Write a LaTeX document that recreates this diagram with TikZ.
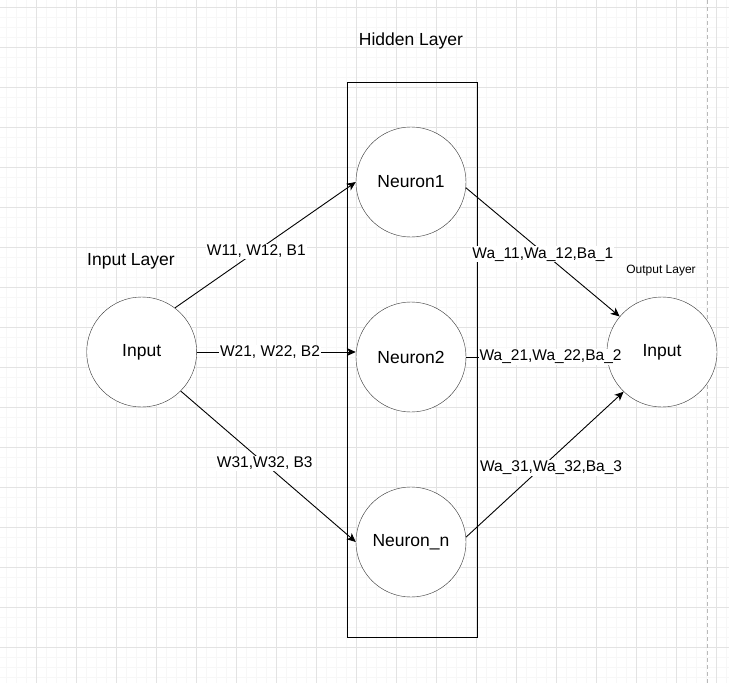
\documentclass[tikz,border=0pt]{standalone}
\usepackage{fontspec}
\setmainfont{Liberation Sans}
\usetikzlibrary{arrows.meta}
\def\NF{\fontsize{17.5}{20}\selectfont}
\def\LF{\fontsize{15.5}{18}\selectfont}
\tikzset{
  neuron/.style={draw=black!80,circle,minimum size=110pt,inner sep=0pt,fill=white,font=\NF},
  wlabel/.style={fill=white,inner sep=1pt,font=\LF},
  conn/.style={-{Stealth[length=9pt,width=8pt,inset=2.5pt]},line width=0.9pt},
}

\begin{document}
\begin{tikzpicture}[x=1pt,y=-1pt]
\useasboundingbox (0,0) rectangle (729,683);
% grid of the page
\foreach \x in {6,16,...,726} \draw[gray!6] (\x,0) -- (\x,683);
\foreach \y in {7,17,...,677} \draw[gray!6] (0,\y) -- (729,\y);
\foreach \x in {36,76,...,716} \draw[gray!22] (\x,0) -- (\x,683);
\foreach \y in {7,47,...,647} \draw[gray!22] (0,\y) -- (729,\y);
\draw[gray!55,dash pattern=on 4pt off 3pt] (707,0) -- (707,683);

\node (hidden) [draw,line width=1pt,minimum width=130pt,minimum height=555pt] at (412,359.5) {};
\node (thid) at (411,41) {\NF Hidden Layer};
\node (tin) at (131,261) {\NF Input Layer};
\node (tout) at (661,271) {\fontsize{12}{14}\selectfont Output Layer};

\node[neuron] (in) at (141.7,352) {Input};
\node[neuron] (n1) at (411,182) {Neuron1};
\node[neuron] (n2) at (411,357) {Neuron2};
\node[neuron] (nn) at (411,542) {Neuron\_n};
\node[neuron] (out) at (662,352) {Input};

\draw[conn] (in.53) -- (n1.west) node[wlabel,pos=0.45] {W11, W12, B1};
\draw[conn] (in.east) -- (in.east -| n2.west) node[wlabel,pos=0.46] {W21, W22, B2};
\draw[conn] (in.-45) -- (nn.west) node[wlabel,pos=0.48] {W31,W32, B3};
\draw[conn] (n1.-6) -- (out.140) node[wlabel,pos=0.5,yshift=-2pt] {Wa\_11,Wa\_12,Ba\_1};
\draw[conn] (n2.east) -- (n2.east -| out.west) node[wlabel,pos=0.6] {Wa\_21,Wa\_22,Ba\_2};
\draw[conn] (nn.5) -- (out.-134) node[wlabel,pos=0.54,yshift=-9pt] {Wa\_31,Wa\_32,Ba\_3};
\end{tikzpicture}
\end{document}
